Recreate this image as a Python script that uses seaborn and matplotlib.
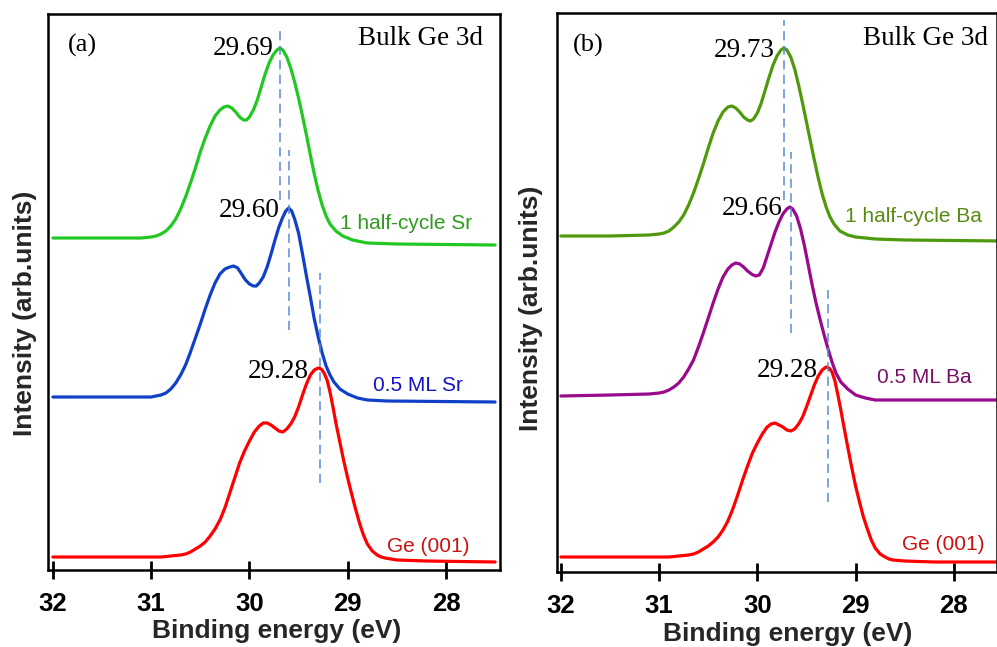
import numpy as np
import pandas as pd
import matplotlib
matplotlib.use("Agg")
import matplotlib.pyplot as plt
import seaborn as sns

# ---------------- data ----------------
# Panel (a): Sr series  -- binding energy (eV) and intensity (arb. units)
e_a_sr1 = [32.0, 31.5, 31.1, 31.0, 30.95, 30.9, 30.85, 30.8, 30.75, 30.7, 30.65, 30.6, 30.55, 30.5,
           30.45, 30.4, 30.35, 30.3, 30.26, 30.22, 30.18, 30.14, 30.1, 30.06, 30.03, 30.0, 29.96,
           29.92, 29.88, 29.84, 29.8, 29.76, 29.72, 29.69, 29.66, 29.62, 29.58, 29.54, 29.5, 29.46,
           29.42, 29.38, 29.34, 29.3, 29.26, 29.22, 29.18, 29.12, 29.05, 28.95, 28.8, 28.5, 27.5]
i_a_sr1 = [332, 332, 332, 333, 334, 336, 339, 344, 351, 361, 373, 387, 402, 418,
           432, 444, 454, 460, 463, 464, 462, 458, 453, 450, 450, 453, 460,
           470, 483, 496, 507, 515, 520, 522, 520, 513, 502, 488, 472, 454,
           435, 415, 396, 379, 365, 354, 346, 339, 334, 330, 327, 326, 325]

e_a_sr05 = [32.0, 31.1, 31.0, 30.95, 30.9, 30.85, 30.8, 30.75, 30.7, 30.65, 30.6, 30.55, 30.5, 30.45,
            30.4, 30.35, 30.3, 30.25, 30.2, 30.16, 30.12, 30.08, 30.04, 30.0, 29.96, 29.93, 29.9,
            29.86, 29.82, 29.78, 29.74, 29.7, 29.66, 29.63, 29.6, 29.57, 29.54, 29.5, 29.46, 29.42,
            29.38, 29.34, 29.3, 29.26, 29.22, 29.18, 29.14, 29.08, 29.0, 28.9, 28.8, 28.6, 27.5]
i_a_sr05 = [173, 173, 173, 174, 175, 177, 181, 187, 195, 205, 218, 232, 246, 261,
            275, 287, 296, 301, 303, 304, 302, 296, 290, 286, 284, 284, 287,
            293, 303, 316, 330, 343, 353, 359, 362, 359, 351, 337, 316, 294,
            273, 251, 233, 217, 204, 195, 188, 181, 176, 172, 170, 169, 168]

e_a_ge = [32.0, 31.0, 30.9, 30.8, 30.7, 30.65, 30.6, 30.55, 30.5, 30.45, 30.4, 30.35, 30.3, 30.25,
          30.2, 30.15, 30.1, 30.05, 30.0, 29.95, 29.9, 29.86, 29.82, 29.78, 29.74, 29.7, 29.66,
          29.62, 29.58, 29.54, 29.5, 29.46, 29.42, 29.38, 29.34, 29.3, 29.27, 29.24, 29.21, 29.18,
          29.15, 29.12, 29.08, 29.04, 29.0, 28.96, 28.92, 28.88, 28.84, 28.8, 28.75, 28.7, 28.66,
          28.62, 28.5, 28.2, 27.5]
i_a_ge = [13, 13, 13, 14, 15, 16, 18, 21, 24, 28, 34, 41, 50, 62,
          77, 92, 107, 119, 129, 138, 144, 147, 147, 145, 142, 139, 138,
          141, 146, 153, 163, 175, 186, 195, 200, 202, 201, 197, 190, 178,
          163, 147, 128, 109, 92, 76, 61, 47, 35, 26, 19, 15, 13,
          12, 10, 9, 8]

# Panel (b): Ba series
e_b_ba1 = [32.0, 31.5, 31.1, 31.0, 30.95, 30.9, 30.85, 30.8, 30.75, 30.7, 30.65, 30.6, 30.55, 30.5,
           30.45, 30.4, 30.35, 30.3, 30.26, 30.22, 30.18, 30.14, 30.1, 30.07, 30.04, 30.0, 29.96,
           29.92, 29.88, 29.84, 29.8, 29.76, 29.73, 29.7, 29.66, 29.62, 29.58, 29.54, 29.5, 29.46,
           29.42, 29.38, 29.34, 29.3, 29.26, 29.22, 29.16, 29.08, 29.0, 28.8, 28.5, 27.5]
i_b_ba1 = [336, 336, 337, 338, 339, 341, 345, 350, 357, 367, 379, 393, 408, 424,
           439, 451, 460, 465, 466, 464, 460, 455, 452, 451, 453, 459, 469,
           482, 495, 507, 516, 522, 524, 522, 515, 503, 487, 469, 450, 431,
           412, 394, 378, 365, 355, 348, 341, 337, 335, 333, 332, 331]

e_b_ba05 = [32.0, 31.5, 31.1, 31.0, 30.95, 30.9, 30.85, 30.8, 30.75, 30.7, 30.65, 30.6, 30.55, 30.5,
            30.45, 30.4, 30.35, 30.3, 30.26, 30.22, 30.18, 30.14, 30.1, 30.06, 30.02, 29.98, 29.94,
            29.9, 29.86, 29.82, 29.78, 29.74, 29.7, 29.67, 29.64, 29.6, 29.56, 29.52, 29.48, 29.44,
            29.4, 29.36, 29.32, 29.28, 29.24, 29.2, 29.15, 29.08, 29.0, 28.9, 28.8, 28.5, 27.5]
i_b_ba05 = [176, 177, 178, 179, 180, 182, 185, 189, 195, 203, 212, 225, 239, 254,
            269, 283, 295, 303, 307, 309, 308, 305, 301, 298, 296, 297, 304,
            316, 328, 340, 350, 358, 363, 365, 363, 356, 343, 326, 306, 286,
            268, 252, 237, 223, 210, 199, 190, 183, 177, 174, 172, 172, 172]

e_b_ge = [32.0, 31.0, 30.9, 30.8, 30.7, 30.65, 30.6, 30.55, 30.5, 30.45, 30.4, 30.35, 30.3, 30.25,
          30.2, 30.15, 30.1, 30.05, 30.0, 29.95, 29.9, 29.86, 29.82, 29.78, 29.74, 29.7, 29.66,
          29.62, 29.58, 29.54, 29.5, 29.46, 29.42, 29.38, 29.34, 29.3, 29.27, 29.24, 29.21, 29.18,
          29.15, 29.12, 29.08, 29.04, 29.0, 28.96, 28.92, 28.88, 28.84, 28.8, 28.75, 28.7, 28.66,
          28.62, 28.5, 28.2, 27.5]
i_b_ge = [15, 15, 15, 16, 17, 18, 20, 23, 26, 30, 35, 42, 51, 63,
          77, 92, 106, 119, 129, 138, 145, 148, 149, 147, 145, 142, 141,
          143, 148, 155, 165, 176, 187, 196, 202, 205, 204, 200, 191, 177,
          162, 146, 125, 105, 86, 70, 55, 43, 32, 24, 18, 15, 13,
          12, 11, 10, 10]

# Peak positions (eV) marked with dashed lines and labels
peaks_a = [29.69, 29.60, 29.28]
peaks_b = [29.73, 29.66, 29.28]
labels_a = ["1 half-cycle Sr", "0.5 ML Sr", "Ge (001)"]
labels_b = ["1 half-cycle Ba", "0.5 ML Ba", "Ge (001)"]
xticks = [32, 31, 30, 29, 28]

# ---------------- styling ----------------
sns.set_style("ticks")
plt.rcParams["font.family"] = ["Liberation Sans", "DejaVu Sans"]
SERIF = ["Liberation Serif", "DejaVu Serif"]

line_cols_a = ["#22c822", "#1040c8", "#ff0000"]
text_cols_a = ["#2f9a1f", "#1414c0", "#cc1010"]
line_cols_b = ["#4f9a0c", "#990a8c", "#ff0000"]
text_cols_b = ["#5a8a10", "#781068", "#cc1010"]
dash_col = "#5a8ad6"

fig = plt.figure(figsize=(9.97, 6.47), dpi=100)
ax_a = fig.add_axes([48/997, 1-570/647, 452/997, 556/647])
ax_b = fig.add_axes([557/997, 1-572/647, 440/997, 559/647])

panels = [
    dict(ax=ax_a, series=[(e_a_sr1, i_a_sr1), (e_a_sr05, i_a_sr05), (e_a_ge, i_a_ge)],
         peaks=peaks_a, labels=labels_a, lc=line_cols_a, tc=text_cols_a,
         xlim=(32.05, 27.45), ylim=(0, 556), tag="(a)",
         dash_y=[(370, 542), (240, 420), (87, 297)],
         peak_txt=[(29.75, 515), (29.69, 353), (29.40, 192)],
         name_txt=[(29.08, 341), (28.74, 179), (28.60, 18)],
         tag_xy=(31.85, 518), bulk_xy=(27.62, 525)),
    dict(ax=ax_b, series=[(e_b_ba1, i_b_ba1), (e_b_ba05, i_b_ba05), (e_b_ge, i_b_ge)],
         peaks=peaks_b, labels=labels_b, lc=line_cols_b, tc=text_cols_b,
         xlim=(32.04, 27.56), ylim=(0, 559), tag="(b)",
         dash_y=[(372, 552), (239, 420), (70, 282)],
         peak_txt=[(29.82, 515), (29.74, 357), (29.38, 195)],
         name_txt=[(29.11, 350), (28.78, 189), (28.53, 22)],
         tag_xy=(31.88, 520), bulk_xy=(27.65, 527)),
]

for p in panels:
    ax = p["ax"]
    for (e, inten), c in zip(p["series"], p["lc"]):
        df = pd.DataFrame({"E": e, "I": inten})
        sns.lineplot(data=df, x="E", y="I", ax=ax, color=c, lw=2.3,
                     sort=False, estimator=None)
        ax.lines[-1].set_solid_joinstyle("round")
    for pk, (y0, y1) in zip(p["peaks"], p["dash_y"]):
        ax.vlines(pk, y0, y1, colors=dash_col, linestyles=(0, (6, 3.5)), lw=1.1)
    for pk, (tx, ty) in zip(p["peaks"], p["peak_txt"]):
        ax.text(tx, ty, f"{pk:.2f}", ha="right", va="baseline", fontsize=19.5,
                family=SERIF, color="black")
    for lab, (tx, ty), c in zip(p["labels"], p["name_txt"], p["tc"]):
        ax.text(tx, ty, lab, ha="left", va="baseline", fontsize=15, color=c)
    ax.text(*p["tag_xy"], p["tag"], ha="left", va="baseline", fontsize=19,
            family=SERIF, color="black")
    ax.text(*p["bulk_xy"], "Bulk Ge 3d", ha="right", va="baseline", fontsize=19.5,
            family=SERIF, color="black")

    ax.set_xlim(*p["xlim"])
    ax.set_ylim(*p["ylim"])
    ax.set_xticks(xticks)
    ax.set_xticklabels([str(t) for t in xticks], fontsize=18.5, fontweight="bold")
    ax.set_yticks([])
    ax.set_xlabel("")
    ax.set_ylabel("")
    ax.tick_params(axis="x", direction="inout", length=13, width=2, pad=9,
                   top=False, colors="black")
    for s in ax.spines.values():
        s.set_visible(True)
        s.set_linewidth(1.8)
        s.set_color("black")

fig.text(25/997, 1-313/647, "Intensity (arb.units)", rotation=90, ha="center", va="center",
         fontsize=19, fontweight="bold")
fig.text(531/997, 1-308/647, "Intensity (arb.units)", rotation=90, ha="center", va="center",
         fontsize=19, fontweight="bold")
fig.text(277/997, 1-638/647, "Binding energy (eV)", ha="center", va="baseline",
         fontsize=19, fontweight="bold")
fig.text(788/997, 1-641/647, "Binding energy (eV)", ha="center", va="baseline",
         fontsize=19, fontweight="bold")

fig.savefig("out.png", dpi=100)
